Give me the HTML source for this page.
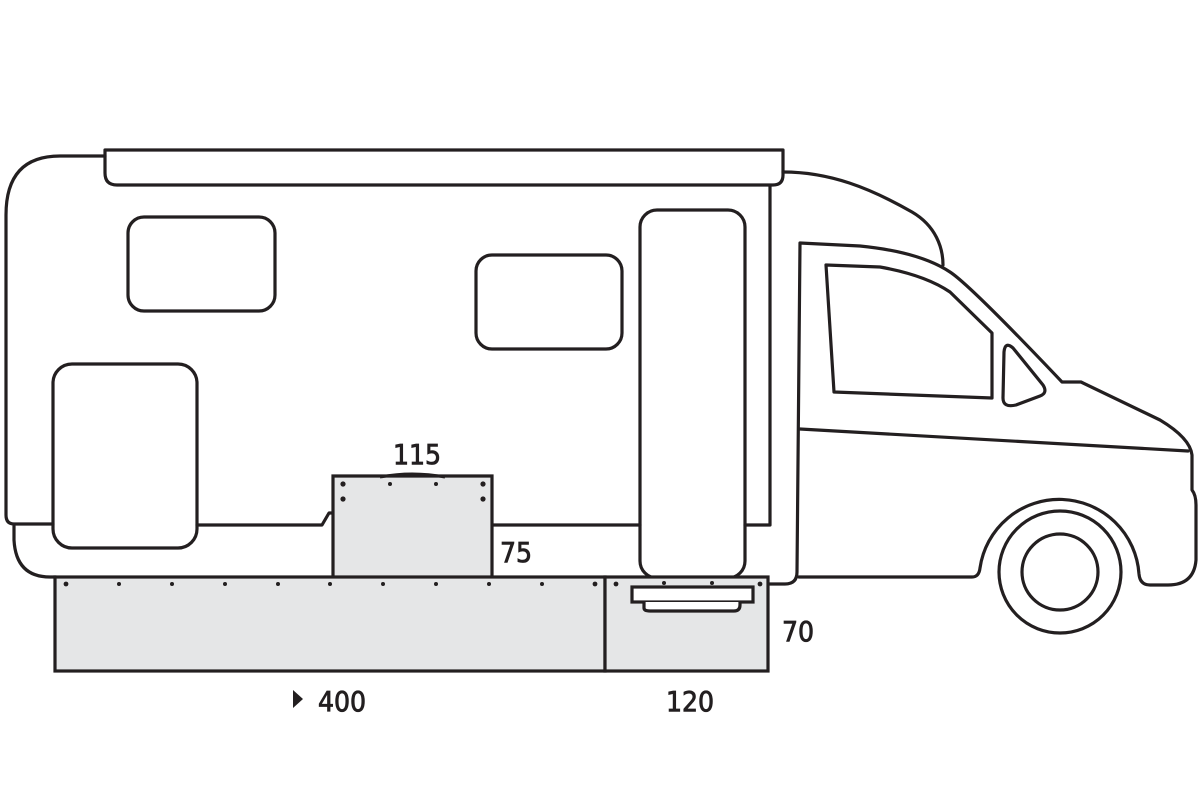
<!DOCTYPE html>
<html><head><meta charset="utf-8"><style>
html,body{margin:0;padding:0;background:#fff;width:1200px;height:800px;overflow:hidden}
svg{display:block}
text{font-family:"DejaVu Sans Condensed","Liberation Sans",sans-serif;font-size:28px;fill:#231f20;stroke:#231f20;stroke-width:0.8px}
</style></head><body>
<svg width="1200" height="800" viewBox="0 0 1200 800" xmlns="http://www.w3.org/2000/svg">
<g fill="none" stroke="#231f20" stroke-width="3.2" stroke-linejoin="round" stroke-linecap="round">
<path d="M105,156 L60,156 Q6,156 6,215 L6,515 Q6,524 14,524 L53,524"/>
<path d="M14,526 L14,540 Q16,577 50,577 L56,577"/>
<path d="M197,525 L322,525 L329,513 L333,513"/>
<path d="M492,525 L640,525"/>
<path d="M745,525 L770,525 L770,186"/>
<path d="M105,150 L783,150 L783,175 Q783,185 773,185 L117,185 Q105,185 105,173 Z"/>
<rect x="128" y="217" width="147" height="94" rx="16"/>
<rect x="476" y="255" width="146" height="94" rx="16"/>
<rect x="53" y="364" width="144" height="184" rx="19"/>
<rect x="640" y="210" width="105" height="368" rx="17"/>
<path d="M783,172 C830,172 870,188 912,212 C936,226 943,248 943,265"/>
<path d="M768,584 L785,584 Q797,584 797,572 L800,243 L860,246 Q920,252 950,272 Q970,285 1062,382 L1081,382 L1160,420 Q1190,438 1192,455 L1192,490 Q1196,495 1196,505 L1196,560 Q1194,585 1168,585 L1150,585 Q1140,585 1139,574 A80,80 0 0 0 980,568 Q979,577 972,577 L799,577"/>
<path d="M800,429 L1188,451"/>
<path d="M826,265 L880,267 Q925,275 950,292 L992,333 L992,398 L834,392 Z"/>
<path d="M1004,352 Q1005,341 1013,348 L1043,385 Q1048,393 1040,396 L1016,405 Q1003,408 1003,398 Z"/>
<circle cx="1060" cy="572" r="61"/>
<circle cx="1060" cy="572" r="38"/>
</g>
<g fill="#e5e6e7" stroke="#231f20" stroke-width="3.2">
<path d="M333,577 L333,476 L492,476 L492,577"/>
<rect x="55" y="577" width="550" height="94"/>
<rect x="605" y="577" width="163" height="94"/>
<rect x="632" y="587" width="121" height="15" fill="#fff"/>
<path d="M644,602 L644,608 Q644,611 650,611 L734,611 Q740,611 740,605 L740,602" fill="#fff"/>
</g>
<path d="M380,477 Q412,471 445,477" stroke="#231f20" stroke-width="3" fill="none"/>
<g fill="#231f20">
<circle cx="343" cy="484" r="2.6"/><circle cx="390" cy="484" r="2"/><circle cx="436" cy="484" r="2"/><circle cx="483" cy="484" r="2.6"/>
<circle cx="343" cy="499" r="2.6"/><circle cx="483" cy="499" r="2.6"/>
<circle cx="66" cy="584" r="2.4"/><circle cx="119" cy="584" r="2"/><circle cx="172" cy="584" r="2"/><circle cx="225" cy="584" r="2"/><circle cx="278" cy="584" r="2"/><circle cx="330" cy="584" r="2"/><circle cx="383" cy="584" r="2"/><circle cx="436" cy="584" r="2"/><circle cx="489" cy="584" r="2"/><circle cx="542" cy="584" r="2"/><circle cx="595" cy="584" r="2.4"/>
<circle cx="616" cy="584" r="2.4"/><circle cx="664" cy="583" r="2"/><circle cx="712" cy="583" r="2"/><circle cx="760" cy="584" r="2.4"/>
<path d="M293,690 L303,699 L293,708 Z"/>
</g>
<text x="417" y="464" text-anchor="middle">115</text>
<text x="500" y="562">75</text>
<text x="782" y="641">70</text>
<text x="318" y="711">400</text>
<text x="666" y="711">120</text>
</svg>
</body></html>
